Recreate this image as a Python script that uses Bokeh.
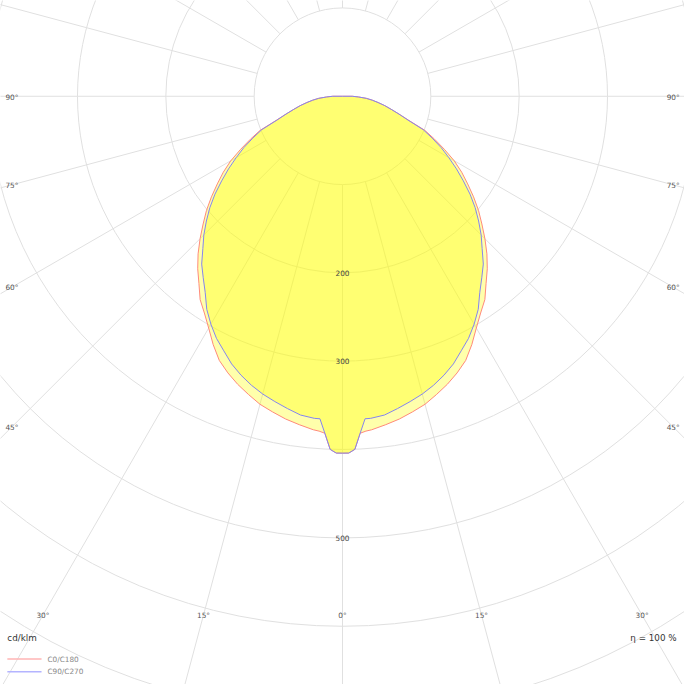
import numpy as np
from bokeh.plotting import figure
from bokeh.models import Range1d
from bokeh.core.properties import value
from bokeh.embed import file_html
from bokeh.resources import INLINE

# gamma angle from nadir (deg) and luminous intensity (cd/klm), symmetric halves
gamma = [0, 1, 2, 3, 4, 5, 7.5, 10, 12.5, 15, 17.5, 20, 22.5, 25, 27.5, 30,
         32.5, 35, 37.5, 40, 42.5, 45, 47.5, 50, 52.5, 55, 57.5, 60, 62.5,
         65, 67.5, 70, 72.5, 75, 77.5, 80, 82.5, 85, 87.5, 90]
c0_c180 = [404, 404, 400, 382, 380, 379, 375, 371, 366, 361, 354, 347, 339, 330,
           317, 303, 291, 281, 267, 255, 242, 228, 214, 201, 187, 173, 160, 146,
           130, 115, 101, 80, 67, 57, 49, 41, 34, 27, 18, 11]
c90_c270 = [404, 404, 400, 382, 366, 366, 364, 359, 354, 349, 343, 336, 328, 318,
            309, 298, 286, 271, 259, 248, 234, 222, 209, 196, 182, 167, 153, 139,
            126, 112, 99, 79, 67, 57, 49, 41, 34, 27, 18, 11]

ring_values = [100, 200, 300, 400, 500, 600, 700, 800]
ring_labels = ["200", "300", "500"]
ring_label_values = [200, 300, 500]
angle_ticks = [0, 15, 30, 45, 60, 75, 90]
series_names = ["C0/C180", "C90/C270"]
unit_text = "cd/klm"
eff_text = "η = 100 %"

PX = 0.904          # reference px per cd/klm
CX, CY = 350, 98    # pole position in the 700 px layout
SIZE = 684          # the 700 px layout is drawn into this many pixels
FS = SIZE / 700.0


def px2x(px):
    return (px - CX) / PX


def py2y(py):
    return (CY - py) / PX


def fs(v):
    return f"{v * FS:.2f}px"


p = figure(width=SIZE, height=SIZE, output_backend="svg", toolbar_location=None,
           x_range=Range1d(px2x(0), px2x(700)), y_range=Range1d(py2y(700), py2y(0)),
           x_axis_type=None, y_axis_type=None, min_border=0)
p.outline_line_color = None
p.background_fill_color = "white"

grid_col = "#e0e0e0"

# radial lines every 15 degrees, starting at the first ring
phi = np.radians(np.arange(0, 360, 15))
r0, r1 = ring_values[0], 2000
p.segment(x0=r0 * np.sin(phi), y0=-r0 * np.cos(phi), x1=r1 * np.sin(phi), y1=-r1 * np.cos(phi),
          line_color=grid_col, line_width=1)

# rings
p.circle(x=[0] * len(ring_values), y=[0] * len(ring_values), radius=ring_values,
         fill_color=None, line_color=grid_col, line_width=1)


def polar_patch(vals):
    g = np.radians(gamma)
    v = np.array(vals, dtype=float)
    xr = v * np.sin(g)
    yr = -v * np.cos(g)
    xs = np.concatenate([xr, [0.0], -xr[::-1]])
    ys = np.concatenate([yr, [0.0], yr[::-1]])
    return xs, ys


xs, ys = polar_patch(c0_c180)
p.patch(xs, ys, fill_color="#ffff00", fill_alpha=0.33, line_color="#ff8a7a", line_width=1)
xs, ys = polar_patch(c90_c270)
p.patch(xs, ys, fill_color="#ffff00", fill_alpha=0.33, line_color="#8585f0", line_width=1)

font = value("DejaVu Sans")

# ring value labels
p.text(x=[0] * len(ring_labels), y=[-v for v in ring_label_values], text=ring_labels,
       text_font=font, text_font_size=fs(7.5), text_color="#444444",
       text_align="center", text_baseline="middle")

# angle labels along the frame edges
bx, by, btxt = [], [], []
lx, ly, ltxt = [], [], []
rx, ry, rtxt = [], [], []
for g in angle_ticks:
    t = np.tan(np.radians(g)) if g < 90 else np.inf
    for side in (-1, 1):
        if g == 0 and side == 1:
            continue
        lab = f"{g}°"
        if 531 * t <= 338:
            bx.append(px2x(CX + side * 531 * t))
            by.append(py2y(629))
            btxt.append(lab)
        else:
            yy = py2y(CY + (338 / t if g < 90 else 0) + 1)
            if side < 0:
                lx.append(px2x(5)); ly.append(yy); ltxt.append(lab)
            else:
                rx.append(px2x(695)); ry.append(yy); rtxt.append(lab)

for xx, yy, tt, al in ((bx, by, btxt, "center"), (lx, ly, ltxt, "left"), (rx, ry, rtxt, "right")):
    p.text(x=xx, y=yy, text=tt, text_font=font, text_font_size=fs(7.5), text_color="#555555",
           text_align=al, text_baseline="middle")

# unit and efficiency
p.text(x=[px2x(7)], y=[py2y(652)], text=[unit_text], text_font=font, text_font_size=fs(9),
       text_color="#333333", text_align="left", text_baseline="middle")
p.text(x=[px2x(692)], y=[py2y(652)], text=[eff_text], text_font=font, text_font_size=fs(9),
       text_color="#333333", text_align="right", text_baseline="middle")

# legend
leg_cols = ["#ffb4b4", "#b4b4ff"]
leg_y = [py2y(674), py2y(687)]
p.segment(x0=[px2x(7)] * 2, y0=leg_y, x1=[px2x(42)] * 2, y1=leg_y, line_color=leg_cols, line_width=1.5)
p.text(x=[px2x(48)] * 2, y=leg_y, text=series_names, text_font=font, text_font_size=fs(7.5),
       text_color="#888888", text_align="left", text_baseline="middle")

open("out.html", "w").write(file_html(p, INLINE))
